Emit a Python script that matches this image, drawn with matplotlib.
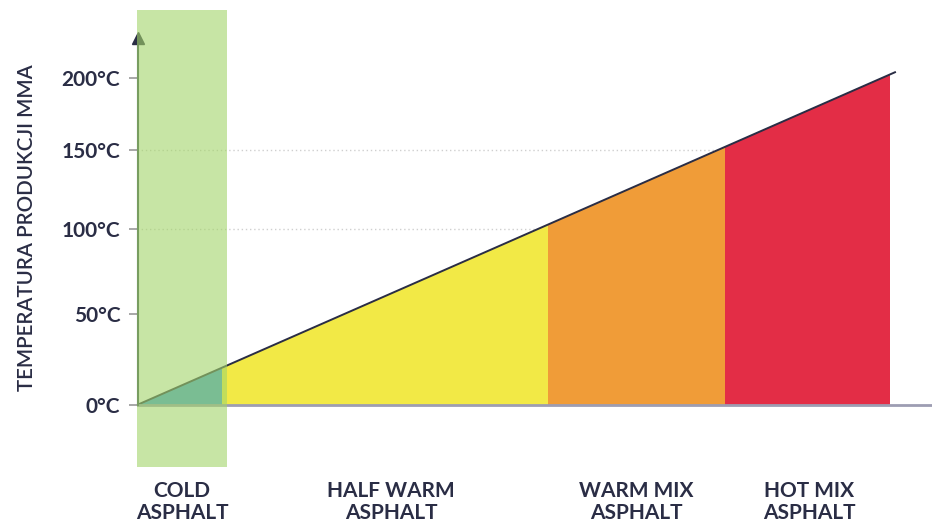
"""Asphalt mix types against production temperature."""
import numpy as np
import matplotlib.pyplot as plt
from matplotlib.transforms import blended_transform_factory

plt.rcParams['font.family'] = ['Lato', 'DejaVu Sans']

# temperature ticks and a hand-tuned (non-uniform) vertical spacing for them
temp_ticks = [0, 50, 100, 150, 200]
temp_labels = ['0°C', '50°C', '100°C', '150°C', '200°C']
grid_temps = [100, 150]

# mix segments along the horizontal axis (arbitrary process units)
segment_edges = [0, 85, 411, 588, 753]
edge_temps = [0, 20.5, 102.9, 152.3, 202.6]
segment_colors = ['#3f9bd4', '#f2e946', '#f09c38', '#e32d46']
categories = ['COLD\nASPHALT', 'HALF WARM\nASPHALT', 'WARM MIX\nASPHALT', 'HOT MIX\nASPHALT']

line_x = [0, 758]
line_temps = [0, 204]
cold_band = [0, 90]

# piecewise mapping temperature -> vertical position (keeps the tick spacing)
_t = np.array([-100, 0, 50, 100, 150, 200, 300])
_p = np.array([-182, 0, 91, 176, 255, 327, 471])


def fwd(t):
    return np.interp(t, _t, _p)


def inv(p):
    return np.interp(p, _p, _t)


TEXT = '#2a2d45'

fig = plt.figure(figsize=(9.32, 5.25), dpi=100)
ax = fig.add_axes([137 / 932, 58 / 525, 795 / 932, 457 / 525])
ax.set_yscale('function', functions=(fwd, inv))
ax.set_xlim(0, 795)
ax.set_ylim(inv(-62), inv(395))

# dotted guide lines (hidden behind the fills)
for t in grid_temps:
    ax.hlines(t, 0, segment_edges[-1], color='#cfcfcf', lw=1, ls=(0, (1, 2)), zorder=0)

# coloured segments under the diagonal
for i, c in enumerate(segment_colors):
    x0, x1 = segment_edges[i], segment_edges[i + 1]
    ax.fill([x0, x1, x1, x0], [0, 0, edge_temps[i + 1], edge_temps[i]],
            color=c, lw=0, zorder=1)

ax.plot(line_x, line_temps, color=TEXT, lw=1.4, zorder=2)

# base line and vertical axis with arrow head
ax.axhline(0, color='#9d9db2', lw=2, zorder=3)
top = inv(367)
ax.plot([0.5, 0.5], [0, top], color='#3a4a55', lw=1.5, zorder=3, clip_on=False)
ax.plot([0.5], [top], marker='^', ms=8, color=TEXT, zorder=3, clip_on=False)

# translucent band marking the cold mix range
ax.axvspan(cold_band[0], cold_band[1], color='#a3d569', alpha=0.6, lw=0, zorder=4)

for s in ax.spines.values():
    s.set_visible(False)
ax.set_xticks([])
ax.set_yticks(temp_ticks)
ax.set_yticklabels(temp_labels)
ax.tick_params(axis='y', direction='out', length=6, width=1.3, color='#a0a0a0',
               pad=6, labelsize=15, labelcolor=TEXT)
for lab in ax.get_yticklabels():
    lab.set_fontweight('bold')

fig.text(27 / 932, 1 - 228 / 525, 'TEMPERATURA PRODUKCJI MMA', rotation=90,
         ha='center', va='center', fontsize=14.8, color=TEXT, fontweight='semibold')

# category labels under each segment
centers = [np.mean(cold_band), 254, 499, 672]
trans = blended_transform_factory(ax.transData, fig.transFigure)
for cx, name in zip(centers, categories):
    ax.text(cx, 1 - 502 / 525, name, transform=trans, clip_on=False,
            ha='center', va='center', fontsize=15, color=TEXT,
            linespacing=1.12, fontweight='bold', zorder=6)

fig.savefig('out.png', dpi=100)
